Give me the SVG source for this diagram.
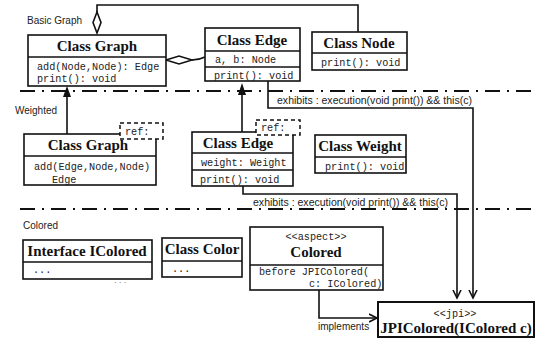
<svg xmlns="http://www.w3.org/2000/svg" width="541" height="342" viewBox="0 0 541 342">
<style>
.box{fill:#fff;stroke:#111;stroke-width:1.6}
.div{stroke:#111;stroke-width:1.3}
.ref{fill:#fff;stroke:#111;stroke-width:1.5;stroke-dasharray:4 3}
.title{font-family:"Liberation Serif",serif;font-weight:bold;font-size:15px;fill:#111;text-anchor:middle}
.mono{font-family:"Liberation Mono",monospace;font-size:10.2px;fill:#222}
.lbl{font-family:"Liberation Sans",Arial,sans-serif;font-size:10px;fill:#222}
.conn{fill:none;stroke:#111;stroke-width:1.6}
.sep{stroke:#111;stroke-width:2;stroke-dasharray:15 7 2 7}
</style>
<defs>
<marker id="open" markerWidth="10" markerHeight="10" refX="8" refY="5" orient="auto" markerUnits="userSpaceOnUse"><path d="M0,1 L8,5 L0,9" fill="none" stroke="#111" stroke-width="1.6"/></marker>
</defs>

<line class="sep" x1="20" y1="91" x2="532" y2="91"/>
<line class="sep" x1="20" y1="209" x2="532" y2="209"/>

<text class="lbl" x="27" y="24">Basic Graph</text>
<text class="lbl" x="15" y="113.5">Weighted</text>
<text class="lbl" x="23" y="228.5">Colored</text>

<g id="connectors">
<path class="conn" d="M97,12 L97,5 L358,5 L358,32"/>
<path d="M97,12 L101,22.5 L97,33 L93,22.5 Z" fill="#fff" stroke="#111" stroke-width="1.6"/>
<path class="conn" d="M192,60 Q199,60 205,57"/>
<path d="M166,60 L179,56 L192,60 L179,64 Z" fill="#fff" stroke="#111" stroke-width="1.6"/>
<line class="conn" x1="67" y1="134" x2="67" y2="96"/>
<path d="M67,86 L63,97 L71,97 Z" fill="#111"/>
<line class="conn" x1="242" y1="132" x2="242" y2="94"/>
<path d="M242,83 L238,95 L246,95 Z" fill="#111"/>
<path class="conn" d="M268,81 L268,108 L473,108 L473,298" marker-end="url(#open)"/>
<text class="lbl" x="277" y="104" textLength="195" lengthAdjust="spacingAndGlyphs">exhibits : execution(void print()) &amp;&amp; this(c)</text>
<path class="conn" d="M243,186 L243,194 L457,194 L457,298" marker-end="url(#open)"/>
<text class="lbl" x="253" y="205.5" textLength="195" lengthAdjust="spacingAndGlyphs">exhibits : execution(void print()) &amp;&amp; this(c)</text>
<path class="conn" d="M319,290 L319,318 L377,318" marker-end="url(#open)"/>
<text class="lbl" x="318" y="330">implements</text>
</g>

<g id="graph-basic">
<rect class="box" x="28" y="35" width="138" height="51"/>
<line class="div" x1="28" y1="57" x2="166" y2="57"/>
<text class="title" x="97" y="51">Class Graph</text>
<text class="mono" x="37" y="69.5">add(Node,Node): Edge</text>
<text class="mono" x="37" y="81.5">print(): void</text>
</g>

<g id="edge-basic">
<rect class="box" x="205" y="28" width="95" height="53"/>
<line class="div" x1="205" y1="51" x2="300" y2="51"/>
<line class="div" x1="205" y1="67" x2="300" y2="67"/>
<text class="title" x="252" y="45">Class Edge</text>
<text class="mono" x="215" y="62.5">a, b: Node</text>
<text class="mono" x="214" y="78.5">print(): void</text>
</g>

<g id="node-basic">
<rect class="box" x="312" y="32" width="95" height="38"/>
<line class="div" x1="312" y1="53" x2="407" y2="53"/>
<text class="title" x="359" y="48">Class Node</text>
<text class="mono" x="321" y="65.5">print(): void</text>
</g>

<g id="graph-weighted">
<rect class="box" x="24" y="134" width="132" height="51"/>
<line class="div" x1="24" y1="156" x2="156" y2="156"/>
<text class="title" x="88" y="150">Class Graph</text>
<text class="mono" x="34" y="169.5">add(Edge,Node,Node)</text>
<text class="mono" x="52" y="182.5">Edge</text>
<rect class="ref" x="120" y="123" width="43" height="16"/>
<text class="mono" x="125" y="134.5">ref:</text>
</g>

<g id="edge-weighted">
<rect class="box" x="192" y="132" width="101" height="54"/>
<line class="div" x1="192" y1="153" x2="293" y2="153"/>
<line class="div" x1="192" y1="170" x2="293" y2="170"/>
<text class="title" x="238" y="148">Class Edge</text>
<text class="mono" x="201" y="165.5">weight: Weight</text>
<text class="mono" x="200" y="182.5">print(): void</text>
<rect class="ref" x="256" y="120" width="44" height="15"/>
<text class="mono" x="261" y="131">ref:</text>
</g>

<g id="weight">
<rect class="box" x="315" y="135" width="91" height="38"/>
<line class="div" x1="315" y1="157" x2="406" y2="157"/>
<text class="title" x="360" y="151">Class Weight</text>
<text class="mono" x="325" y="169.5">print(): void</text>
</g>

<g id="icolored">
<rect class="box" x="23" y="240" width="129" height="39"/>
<line class="div" x1="23" y1="262" x2="152" y2="262"/>
<text class="title" x="87" y="256">Interface IColored</text>
<text class="mono" x="33" y="273">...</text>
<text class="mono" x="113" y="283" style="fill:#888;font-size:8px">...</text>
</g>

<g id="color">
<rect class="box" x="162" y="238" width="80" height="39"/>
<line class="div" x1="162" y1="261" x2="242" y2="261"/>
<text class="title" x="202" y="254">Class Color</text>
<text class="mono" x="172" y="272">...</text>
</g>

<g id="colored-aspect">
<rect class="box" x="250" y="227" width="133" height="63"/>
<line class="div" x1="250" y1="265" x2="383" y2="265"/>
<text class="mono" x="316" y="239.5" text-anchor="middle">&lt;&lt;aspect&gt;&gt;</text>
<text class="title" x="316" y="257">Colored</text>
<text class="mono" x="259" y="274.5">before JPIColored(</text>
<text class="mono" x="309" y="286.5">c: IColored)</text>
</g>

<g id="jpicolored">
<rect class="box" x="378" y="302" width="156" height="35" style="stroke-width:2"/>
<text class="mono" x="455" y="316.5" text-anchor="middle">&lt;&lt;jpi&gt;&gt;</text>
<text class="title" x="456" y="333">JPIColored(IColored c)</text>
</g>
</svg>
